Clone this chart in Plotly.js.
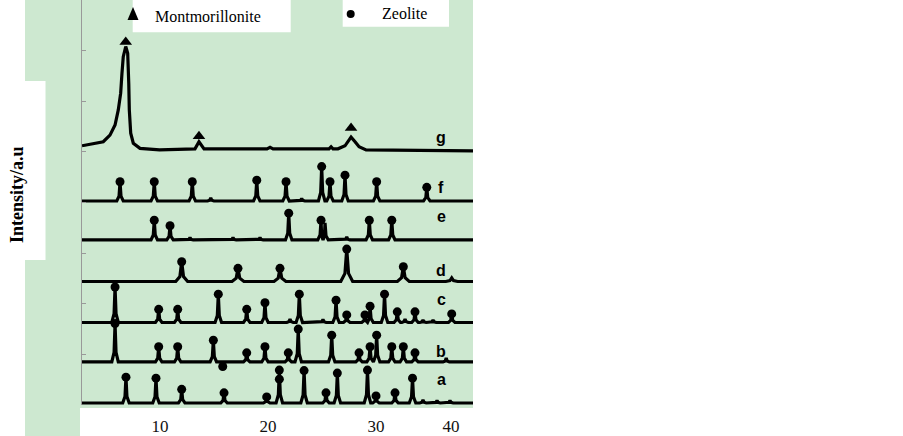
<!DOCTYPE html>
<html>
<head>
<meta charset="utf-8">
<script src="https://cdn.plot.ly/plotly-3.0.1.min.js"></script>
<style>
  html, body { margin: 0; padding: 0; background: #fff; }
  #plot { width: 903px; height: 436px; }
</style>
</head>
<body>
<div id="plot"></div>
<script>
// XRD patterns a-g (2theta in degrees, intensity in a.u.)
const xTickVals = [10, 20, 30, 36.94];
const xTickText = ["10", "20", "30", "40"];

const sampleNames = ["a", "b", "c", "d", "e", "f", "g"];
const nameY = [0.50, 1.05, 2.09, 2.65, 3.72, 4.29, 5.29];

const aBase = 0.04;
const aPeakX = [6.85, 9.63, 12.01, 15.93, 19.88, 21.05, 23.34, 25.37, 26.42, 29.21, 30.00, 31.76, 33.38];
const aPeakY = [0.55, 0.53, 0.31, 0.24, 0.16, 0.69, 0.68, 0.24, 0.63, 0.69, 0.18, 0.24, 0.53];
const aBumpX = [34.35, 35.65, 36.85];
const aBumpY = [0.10, 0.09, 0.09];

const bBase = 0.85;
const bPeakX = [5.84, 9.88, 11.64, 14.94, 18.03, 19.72, 21.88, 22.8, 25.90, 28.43, 29.45, 30.06, 31.46, 32.53, 33.61];
const bPeakY = [1.61, 1.15, 1.15, 1.28, 1.03, 1.15, 1.03, 1.50, 1.38, 1.03, 1.15, 1.38, 1.15, 1.15, 1.03];
const bBumpX = [36.5];
const bBumpY = [0.93];

const cBase = 1.63;
const cPeakX = [5.84, 9.88, 11.64, 15.40, 18.03, 19.72, 22.9, 26.30, 27.29, 28.98, 29.45, 30.79, 31.97, 33.61, 37.01];
const cPeakY = [2.33, 1.89, 1.89, 2.19, 1.89, 2.02, 2.19, 2.07, 1.78, 1.78, 1.95, 2.19, 1.84, 1.84, 1.80];
const cBumpX = [22.04, 25.09, 32.69, 34.35, 35.28];
const cBumpY = [1.70, 1.69, 1.70, 1.68, 1.68];

const dBase = 2.44;
const dPeakX = [12.01, 17.22, 21.11, 27.29, 32.53];
const dPeakY = [2.83, 2.70, 2.70, 3.08, 2.73];
const dBumpX = [37.01];
const dBumpY = [2.51];

const eBase = 3.26;
const ePeakX = [9.47, 10.93, 21.92, 24.91, 29.38, 31.46];
const ePeakY = [3.65, 3.54, 3.79, 3.65, 3.65, 3.65];
const eBumpX = [12.78, 16.76, 19.26, 25.28, 27.29];
const eBumpY = [3.31, 3.31, 3.31, 3.60, 3.32];

const fBase = 4.03;
const fPeakX = [6.30, 9.47, 12.99, 18.96, 21.67, 24.97, 25.74, 27.13, 30.06, 34.70];
const fPeakY = [4.41, 4.41, 4.41, 4.44, 4.41, 4.71, 4.41, 4.54, 4.41, 4.30];
const fBumpX = [14.70, 23.12];
const fBumpY = [4.09, 4.08];

// zeolite marks that do not sit on a peak tip
const extraZeoX = [21.05, 15.81];
const extraZeoY = [0.51, 0.76];

// montmorillonite pattern g, traced point by point
const gX = [2.78, 4.75, 5.37, 5.84, 6.14, 6.36, 6.48, 6.60, 6.83, 7.01, 7.11, 7.16, 7.29, 7.53, 8.15, 9.96,
            13.24, 13.61, 14.08, 19.91, 20.19, 20.47, 25.65, 25.84, 26.02,
            26.48, 27.13, 27.41, 27.69, 28.06, 28.43, 29.08, 38.98];
const gY = [5.12, 5.20, 5.33, 5.53, 5.83, 6.16, 6.55, 6.88, 7.08, 6.95, 6.35, 5.83, 5.37, 5.17, 5.07, 5.04,
            5.06, 5.20, 5.06, 5.06, 5.09, 5.06, 5.06, 5.10, 5.06,
            5.06, 5.12, 5.20, 5.29, 5.20, 5.10, 5.04, 5.02];
const montX = [6.83, 13.61, 27.69];
const montY = [7.17, 5.31, 5.47];

const xMin = 2.78, xMax = 38.98;

// turn a peak list into a line with narrow spikes on a flat baseline
function buildPattern(base, peakX, peakY, bumpX, bumpY, w) {
  const pk = peakX.map((x, i) => ({ x: x, y: peakY[i] }))
    .concat(bumpX.map((x, i) => ({ x: x, y: bumpY[i] })))
    .sort((p, q) => p.x - q.x);
  const xs = [xMin], ys = [base];
  pk.forEach((p, i) => {
    const prev = i > 0 ? pk[i - 1].x : -1e9;
    const next = i < pk.length - 1 ? pk[i + 1].x : 1e9;
    const lw = Math.min(w, (p.x - prev) / 2);
    const rw = Math.min(w, (next - p.x) / 2);
    const h = p.y - base;
    xs.push(p.x - lw, p.x - 0.3 * lw, p.x, p.x + 0.3 * rw, p.x + rw);
    ys.push(base, base + 0.25 * h, p.y, base + 0.25 * h, base);
  });
  xs.push(xMax);
  ys.push(base);
  return { x: xs, y: ys };
}

const patterns = [
  buildPattern(aBase, aPeakX, aPeakY, aBumpX, aBumpY, 0.3),
  buildPattern(bBase, bPeakX, bPeakY, bBumpX, bBumpY, 0.3),
  buildPattern(cBase, cPeakX, cPeakY, cBumpX, cBumpY, 0.3),
  buildPattern(dBase, dPeakX, dPeakY, dBumpX, dBumpY, 0.55),
  buildPattern(eBase, ePeakX, ePeakY, eBumpX, eBumpY, 0.3),
  buildPattern(fBase, fPeakX, fPeakY, fBumpX, fBumpY, 0.3)
];

const lineStyle = { color: "#000", width: 3.2 };
const traces = patterns.map(p => ({
  x: p.x, y: p.y, type: "scatter", mode: "lines",
  line: lineStyle, hoverinfo: "skip", cliponaxis: false
}));
traces.push({ x: gX, y: gY, type: "scatter", mode: "lines", line: lineStyle, cliponaxis: false });

// zeolite circles on the peak tips
const zeoX = [].concat(aPeakX, bPeakX, cPeakX, dPeakX, ePeakX, fPeakX, extraZeoX);
const zeoY = [].concat(aPeakY, bPeakY, cPeakY, dPeakY, ePeakY, fPeakY, extraZeoY);
traces.push({
  x: zeoX, y: zeoY, type: "scatter", mode: "markers",
  marker: { symbol: "circle", size: 9, color: "#000" }, cliponaxis: false
});
traces.push({
  x: montX, y: montY, type: "scatter", mode: "markers",
  marker: { symbol: "triangle-up", size: 11, color: "#000" }, cliponaxis: false
});

// pixel helpers for the decoration boxes (plot area is 82..473 x 0..405)
const px = v => (v - 82) / 391;
const py = v => (405 - v) / 405;

const green = "#cde8d0";
const shapes = [
  { type: "rect", xref: "paper", yref: "paper", x0: px(25), x1: px(473), y0: py(436), y1: py(0),
    fillcolor: green, line: { width: 0 }, layer: "below" },
  { type: "rect", xref: "paper", yref: "paper", x0: px(0), x1: px(45.5), y0: py(260), y1: py(81),
    fillcolor: "#fff", line: { width: 0 }, layer: "below" },
  { type: "rect", xref: "paper", yref: "paper", x0: px(80), x1: px(476), y0: py(436), y1: py(408),
    fillcolor: "#fff", line: { width: 0 }, layer: "below" },
  { type: "rect", xref: "paper", yref: "paper", x0: px(132.7), x1: px(290.7), y0: py(32.3), y1: py(0),
    fillcolor: "#fff", line: { width: 0 }, layer: "below" },
  { type: "rect", xref: "paper", yref: "paper", x0: px(342.7), x1: px(449), y0: py(26.7), y1: py(0),
    fillcolor: "#fff", line: { width: 0 }, layer: "below" },
  { type: "path", xref: "paper", yref: "paper",
    path: "M" + px(133) + "," + py(7) + " L" + px(127.5) + "," + py(20) + " L" + px(138.5) + "," + py(20) + " Z",
    fillcolor: "#000", line: { width: 0 }, layer: "above" },
  { type: "circle", xref: "paper", yref: "paper", x0: px(346.7), x1: px(354.7), y0: py(18), y1: py(10),
    fillcolor: "#000", line: { width: 0 }, layer: "above" }
];

const serif = "Liberation Serif, Times New Roman, serif";
const annotations = [
  { xref: "paper", yref: "paper", x: px(153), y: py(16), xanchor: "left", yanchor: "middle",
    text: "Montmorillonite", showarrow: false, font: { family: serif, size: 16, color: "#000" } },
  { xref: "paper", yref: "paper", x: px(380), y: py(13), xanchor: "left", yanchor: "middle",
    text: "Zeolite", showarrow: false, font: { family: serif, size: 16, color: "#000" } },
  { xref: "paper", yref: "paper", x: px(17), y: py(195), xanchor: "center", yanchor: "middle",
    text: "<b>Intensity/a.u</b>", textangle: -90, showarrow: false,
    font: { family: serif, size: 18, color: "#000" } }
];
sampleNames.forEach((n, i) => {
  annotations.push({
    x: 36.02, y: nameY[i], xanchor: "center", yanchor: "middle", text: "<b>" + n + "</b>",
    showarrow: false, font: { family: "Liberation Sans, Arial, sans-serif", size: 16, color: "#000" }
  });
});

const layout = {
  width: 903, height: 436,
  margin: { l: 82, r: 430, t: 0, b: 31 },
  paper_bgcolor: "#fff",
  plot_bgcolor: "rgba(0,0,0,0)",
  showlegend: false,
  xaxis: {
    range: [xMin, xMax], showgrid: false, zeroline: false, showline: false, ticks: "",
    tickvals: xTickVals, ticktext: xTickText, ticklabelstandoff: 9,
    tickfont: { family: serif, size: 17, color: "#111" }
  },
  yaxis: {
    range: [0, 8], showgrid: false, zeroline: false, showline: true,
    linecolor: "#999", linewidth: 1, ticks: "inside", ticklen: 4, tickcolor: "#999",
    tickvals: [1, 2, 3, 4, 5, 6, 7], showticklabels: false
  },
  shapes: shapes,
  annotations: annotations
};

Plotly.newPlot("plot", traces, layout, { staticPlot: true });
</script>
</body>
</html>
